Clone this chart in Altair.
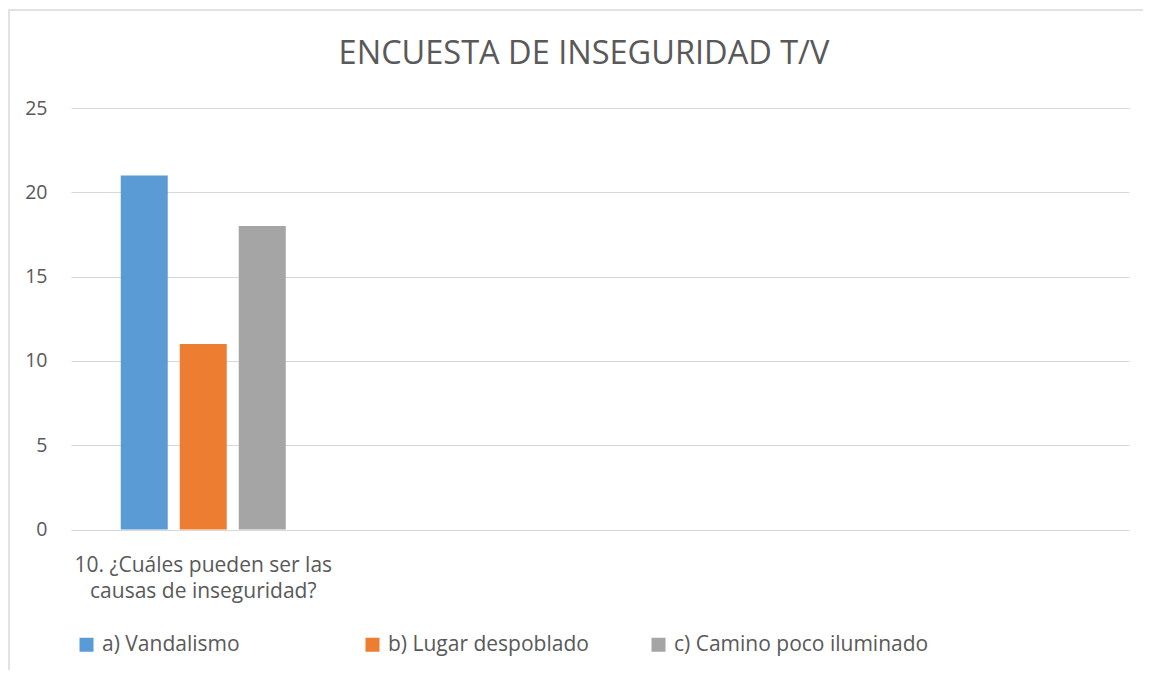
import altair as alt
import pandas as pd

# ---- data ----
title_text = "ENCUESTA DE INSEGURIDAD T/V"
category_lines = ["10. ¿Cuáles pueden ser las", "causas de inseguridad?"]
category = "\n".join(category_lines)
empty_categories = ["_2", "_3", "_4"]
series = ["a) Vandalismo", "b) Lugar despoblado", "c) Camino poco iluminado"]
values = [21, 11, 18]
colors = ["#5B9BD5", "#ED7D31", "#A5A5A5"]
y_ticks = [0, 5, 10, 15, 20, 25]

df = pd.DataFrame({"cat": [category] * len(series), "serie": series, "valor": values})

FONT = "Open Sans"
TXT = "#595959"
GRID = "#D9D9D9"

W = 1058
H = 421.5

bars = alt.Chart(df).mark_bar().encode(
    x=alt.X(
        "cat:N",
        scale=alt.Scale(domain=[category] + empty_categories, paddingInner=0, paddingOuter=0),
        axis=alt.Axis(
            title=None,
            labelAngle=0,
            ticks=False,
            domain=False,
            labelExpr="indexof(datum.label, '_') == 0 ? '' : split(datum.label, '\\n')",
            labelFont=FONT,
            labelFontSize=21,
            labelColor=TXT,
            labelLineHeight=26,
            labelPadding=25,
            labelBaseline="top",
            labelLimit=400,
        ),
    ),
    xOffset=alt.XOffset(
        "serie:N",
        scale=alt.Scale(domain=series, paddingInner=0.2034, paddingOuter=0.843),
    ),
    y=alt.Y(
        "valor:Q",
        scale=alt.Scale(domain=[0, 25], nice=False),
        axis=alt.Axis(
            title=None,
            values=y_ticks,
            ticks=False,
            domain=False,
            grid=True,
            gridColor=GRID,
            gridWidth=1,
            labelFont=FONT,
            labelFontSize=19.5,
            labelColor=TXT,
            labelPadding=24,
        ),
    ),
    color=alt.Color(
        "serie:N",
        scale=alt.Scale(domain=series, range=colors),
        legend=alt.Legend(
            title=None,
            orient="none",
            legendX=5,
            legendY=526,
            direction="horizontal",
            columns=3,
            gridAlign="all",
            columnPadding=5,
            symbolType="square",
            symbolSize=196,
            symbolStrokeWidth=0,
            symbolOffset=0,
            labelOffset=5,
            labelFont=FONT,
            labelFontSize=21,
            labelColor=TXT,
            labelLimit=400,
        ),
    ),
)

border = alt.Chart(alt.Data(values=[{"b": 1}])).mark_rect(
    fill="transparent", stroke=GRID, strokeWidth=1.5
).encode(
    x=alt.value(-62),
    x2=alt.value(W + 200),
    y=alt.value(-98),
    y2=alt.value(H + 300),
)

chart = (
    alt.layer(border, bars)
    .properties(
        width=W,
        height=H,
        title=alt.TitleParams(
            title_text,
            font=FONT,
            fontSize=32.5,
            fontWeight="normal",
            color=TXT,
            anchor="middle",
            baseline="alphabetic",
            dx=-16,
            dy=87,
            offset=0,
        ),
        autosize=alt.AutoSizeParams(type="none"),
        padding={"left": 63, "top": 100, "right": 14, "bottom": 140},
    )
    .configure_view(stroke=None)
)

chart.save("out.html", embed_options={"renderer": "svg", "actions": False})
